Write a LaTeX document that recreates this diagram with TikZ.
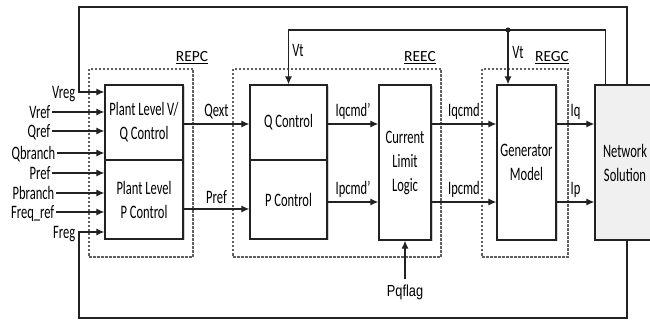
\documentclass[tikz,border=0pt]{standalone}
\usepackage{fontspec}
\setmainfont{Carlito}[FakeStretch=0.66]
\newfontfamily\regfont{Carlito}
\newfontfamily\flagfont{Liberation Sans}[FakeStretch=0.8]
\definecolor{linegray}{RGB}{34,34,34}
\definecolor{dashgray}{RGB}{95,95,95}
\definecolor{netfill}{RGB}{240,240,240}
\usetikzlibrary{positioning,arrows.meta,calc,shadows}

\begin{document}
\begin{tikzpicture}[x=1pt,y=-1pt,font=\fontsize{19}{24}\selectfont,
    blk/.style={draw=linegray, fill=white, line width=1.3pt, align=center, inner sep=0pt,
      drop shadow={shadow xshift=1.5pt, shadow yshift=-1.5pt, opacity=0.35, fill=gray}},
    region/.style={draw=dashgray, line width=1.4pt, dash pattern=on 2.5pt off 1.5pt},
    arr/.style={draw=linegray, line width=1.2pt, -{Latex[length=8pt,width=7pt]}},
    inlab/.style={anchor=east, inner sep=1.5pt, text height=12.5pt, text depth=0pt},
    tag/.style={font=\regfont\fontsize{15.5}{18}\selectfont}]
    \useasboundingbox (0,0) rectangle (650,320);

    % dashed controller regions
    \draw[region] (89,69) rectangle (193,257);
    \draw[region] (233,69) rectangle (441,257);
    \draw[region] (482,69) rectangle (568,257);
    \node[tag] (repc) at (192,58) {\underline{REPC}};
    \node[tag] (reec) at (420,58) {\underline{REEC}};
    \node[tag] (regc) at (552,58) {\underline{REGC}};

    % blocks
    \node[blk, minimum width=78pt, minimum height=75pt] (vqplant) at (144,122.5) {Plant Level V/\\Q Control};
    \node[blk, minimum width=78pt, minimum height=79pt] (pplant) at (144,199.5) {Plant Level\\P Control};
    \node[blk, minimum width=77pt, minimum height=75pt] (qctrl) at (288.5,122.5) {Q Control};
    \node[blk, minimum width=77pt, minimum height=79pt] (pctrl) at (288.5,199.5) {P Control};
    \node[blk, minimum width=52pt, minimum height=155pt] (cll) at (405,162.5) {Current\\Limit\\Logic};
    \node[blk, minimum width=59pt, minimum height=155pt] (gen) at (526.5,162.5) {Generator\\Model};
    \node[blk, fill=netfill, minimum width=60pt, minimum height=155pt] (net) at (625,162.5) {Network\\Solution};

    % inputs
    \node[inlab] (vreg) at (77,92) {Vreg};
    \node[inlab] (vref) at (52,112) {Vref};
    \node[inlab] (qref) at (52,131) {Qref};
    \node[inlab] (qbranch) at (57,153) {Qbranch};
    \node[inlab] (pref) at (52,173) {Pref};
    \node[inlab] (pbranch) at (56,193) {Pbranch};
    \node[inlab] (freqref) at (56,212) {Freq\_ref};
    \node[inlab] (freg) at (77,232) {Freg};
    \foreach \n in {vref,qref,qbranch}
      \draw[arr] (\n.east) -- (vqplant.west |- \n.east);
    \foreach \n in {pref,pbranch,freqref}
      \draw[arr] (\n.east) -- (pplant.west |- \n.east);

    % feedback loops
    \coordinate (fbtop) at (79,7);
    \coordinate (fbbot) at (79,318);
    \coordinate (fbnet) at ([xshift=2pt]net.north);
    \draw[arr] (fbnet) |- (fbtop) |- (vqplant.west |- vreg.east);
    \draw[arr] (fbnet |- net.south) |- (fbbot) |- (pplant.west |- freg.east);

    \coordinate (vtsrc) at ([xshift=11pt]net.north west);
    \coordinate (vtdot) at (508,30);
    \draw[arr] (vtsrc) |- (vtdot) -| (qctrl.north);
    \draw[arr] (vtdot) -- (vtdot |- gen.north);
    \fill[linegray] (vtdot) circle (2.5pt);
    \node (vtq) at (298,50) {Vt};
    \node (vtg) at (518,52) {Vt};

    % signal rows
    \coordinate (qrow) at (0,124);
    \coordinate (prow) at (0,202);
    \coordinate (prefrow) at (0,209);
    \draw[arr] (vqplant.east |- qrow) -- (qctrl.west |- qrow) node[midway, above=1pt] (qext) {Qext};
    \draw[arr] (pplant.east |- prefrow) -- (pctrl.west |- prefrow) node[midway, above=1pt] (prefout) {Pref};
    \draw[arr] (qctrl.east |- qrow) -- (cll.west |- qrow) node[midway, above=1pt] (iqcmdp) {Iqcmd'};
    \draw[arr] (pctrl.east |- prow) -- (cll.west |- prow) node[midway, above=1pt] (ipcmdp) {Ipcmd'};
    \draw[arr] (cll.east |- qrow) -- (gen.west |- qrow) node[midway, above=1pt] (iqcmd) {Iqcmd};
    \draw[arr] (cll.east |- prow) -- (gen.west |- prow) node[midway, above=1pt] (ipcmd) {Ipcmd};
    \draw[arr] (gen.east |- qrow) -- (net.west |- qrow) node[midway, above=1pt] (iq) {Iq};
    \draw[arr] (gen.east |- prow) -- (net.west |- prow) node[midway, above=1pt] (ip) {Ip};

    \node[font=\flagfont\fontsize{16}{18}\selectfont, inner sep=5pt] (pqflag) at (405,292) {Pqflag};
    \draw[arr] (pqflag) -- (cll.south);
\end{tikzpicture}
\end{document}
